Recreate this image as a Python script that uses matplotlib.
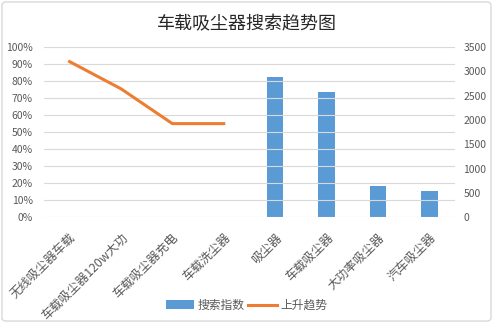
import numpy as np
import matplotlib
matplotlib.use('Agg')
import matplotlib.pyplot as plt
import matplotlib.transforms as mtransforms
from matplotlib.patches import FancyBboxPatch

plt.rcParams['font.family'] = ['Noto Sans CJK SC', 'DejaVu Sans']

categories = ['无线吸尘器车载', '车载吸尘器120w大功', '车载吸尘器充电', '车载洗尘器',
              '吸尘器', '车载吸尘器', '大功率吸尘器', '汽车吸尘器']
search_index = [np.nan, np.nan, np.nan, np.nan, 2880, 2575, 640, 545]
trend = [0.915, 0.755, 0.55, 0.55, np.nan, np.nan, np.nan, np.nan]

blue = '#5b9bd5'
orange = '#ed7d31'
grey = '#595959'

fig = plt.figure(figsize=(4.93, 3.23), dpi=100)
fig.patches.append(FancyBboxPatch((0.004, 0.006), 0.992, 0.988,
                                  boxstyle='round,pad=0,rounding_size=0.01',
                                  transform=fig.transFigure, fill=False,
                                  edgecolor='#d9d9d9', linewidth=1))

ax = fig.add_axes([0.089, 0.328, 0.834, 0.526])
ax2 = ax.twinx()
x = np.arange(len(categories))

ax.set_ylim(0, 1.0)
ax.set_yticks(np.arange(0, 1.01, 0.1))
ax.set_yticklabels(['%d%%' % round(v * 100) for v in np.arange(0, 1.01, 0.1)])
ax.grid(axis='y', color='#d9d9d9', linewidth=0.8)
ax.set_axisbelow(True)

ax2.set_ylim(0, 3500)
ax2.set_yticks(range(0, 3501, 500))
bars = ax2.bar(x, search_index, width=0.32, color=blue, label='搜索指数')

line, = ax.plot(x, trend, color=orange, linewidth=2.2, label='上升趋势')
ax.set_zorder(ax2.get_zorder() + 1)
ax.patch.set_visible(False)

ax.set_xlim(-0.5, len(categories) - 0.5)
ax.set_xticks(x)
ax.set_xticklabels(categories, rotation=45, ha='right', va='top',
                   rotation_mode='anchor', fontsize=8.8, color=grey)
shift = mtransforms.ScaledTranslation(8 / 72, 0, fig.dpi_scale_trans)
for lab in ax.get_xticklabels():
    lab.set_transform(lab.get_transform() + shift)

for a in (ax, ax2):
    for s in a.spines.values():
        s.set_visible(False)
    a.tick_params(axis='y', length=0, labelsize=7.5, labelcolor=grey)
ax.tick_params(axis='x', length=0, pad=10)
ax.tick_params(axis='y', pad=8)
ax2.tick_params(axis='y', pad=6)

fig.text(0.5, 0.925, '车载吸尘器搜索趋势图', ha='center', va='center',
         fontsize=13, color='#262626')

fig.legend([bars, line], ['搜索指数', '上升趋势'], loc='center',
           bbox_to_anchor=(0.5, 0.055), ncol=2, frameon=False, fontsize=8.5,
           handlelength=2.4, handletextpad=0.3, columnspacing=0.3,
           labelcolor=grey)

fig.savefig('out.png', dpi=100)
